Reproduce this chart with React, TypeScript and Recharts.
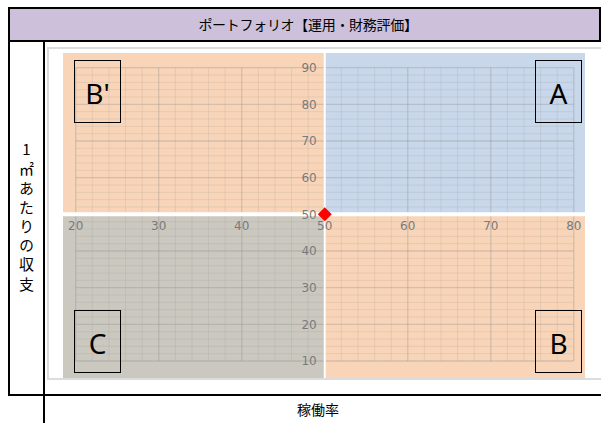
import React from 'react';
import {
  ScatterChart,
  Scatter,
  XAxis,
  YAxis,
  ReferenceArea,
  ReferenceLine,
  ReferenceDot,
} from 'recharts';

// ---- data ----
const titleText = 'ポートフォリオ【運用・財務評価】';
const yAxisTitle = '1㎡あたりの収支';
const xAxisTitle = '稼働率';

const xTickValues = [20, 30, 40, 50, 60, 70, 80];
const yTickValues = [10, 20, 30, 40, 50, 60, 70, 80, 90];
const xMinorGrid = [22, 24, 26, 28, 32, 34, 36, 38, 42, 44, 46, 48, 52, 54, 56, 58, 62, 64, 66, 68, 72, 74, 76, 78];
const yMinorGrid = [12, 14, 16, 18, 22, 24, 26, 28, 32, 34, 36, 38, 42, 44, 46, 48, 52, 54, 56, 58, 62, 64, 66, 68, 72, 74, 76, 78, 82, 84, 86, 88];
const crossValue = 50;
const portfolioPoints = [{ rate: 50, income: 50 }];
const quadrantNames = ["B'", 'A', 'C', 'B'];

// ---- layout / style ----
const X_DOMAIN: [number, number] = [18.47, 81.35];
const Y_DOMAIN: [number, number] = [5.36, 94.01];
const ORANGE = '#F8D5B8';
const BLUE = '#C8D7EA';
const GRAY = '#CBC8C0';
const quadrantStyles = [
  { x1: X_DOMAIN[0], x2: crossValue, y1: crossValue, y2: Y_DOMAIN[1], fill: ORANGE, box: { left: 74, top: 60 } },
  { x1: crossValue, x2: X_DOMAIN[1], y1: crossValue, y2: Y_DOMAIN[1], fill: BLUE, box: { left: 535, top: 60 } },
  { x1: X_DOMAIN[0], x2: crossValue, y1: Y_DOMAIN[0], y2: crossValue, fill: GRAY, box: { left: 74, top: 310 } },
  { x1: crossValue, x2: X_DOMAIN[1], y1: Y_DOMAIN[0], y2: crossValue, fill: ORANGE, box: { left: 535, top: 310 } },
];

const TICK_FONT = { fontFamily: 'DejaVu Sans', fontSize: 12, fill: '#7A7A7A' };

const Diamond = (props: any) => {
  const { cx, cy } = props;
  const r = 7;
  return (
    <polygon
      points={`${cx},${cy - r} ${cx + r},${cy} ${cx},${cy + r} ${cx - r},${cy}`}
      fill="#FF0000"
    />
  );
};

const line = (left: number, top: number, width: number, height: number, color = '#000') => (
  <div style={{ position: 'absolute', left, top, width, height, background: color }} />
);

export default function App() {
  const xLo = xTickValues[0];
  const xHi = xTickValues[xTickValues.length - 1];
  const yLo = yTickValues[0];
  const yHi = yTickValues[yTickValues.length - 1];
  return (
    <div
      style={{
        position: 'absolute',
        left: 0,
        top: 0,
        width: 601,
        height: 423,
        background: '#fff',
        overflow: 'hidden',
        fontFamily: '"Noto Sans CJK JP", sans-serif',
      }}
    >
      {/* title band */}
      <div style={{ position: 'absolute', left: 10, top: 9, width: 589, height: 31, background: '#CCC0DA' }} />
      <div
        style={{
          position: 'absolute',
          left: 108,
          top: 9,
          width: 400,
          height: 31,
          lineHeight: '31px',
          textAlign: 'center',
          fontSize: 14,
          color: '#000',
          letterSpacing: -0.3,
        }}
      >
        {titleText}
      </div>

      {/* chart frame */}
      <div
        style={{
          position: 'absolute',
          left: 47,
          top: 47,
          width: 554,
          height: 333,
          boxSizing: 'border-box',
          borderTop: '2px solid #DCDCDC',
          borderLeft: '2px solid #DCDCDC',
          borderBottom: '2px solid #DCDCDC',
        }}
      />

      {/* table lines */}
      {line(8, 7, 593, 2)}
      {line(8, 7, 2, 389)}
      {line(8, 40, 593, 2)}
      {line(43, 40, 2, 383)}
      {line(8, 394, 593, 2)}
      {line(599, 7, 2, 35)}

      {/* y axis title (vertical) */}
      <div
        style={{
          position: 'absolute',
          left: 12,
          top: 142,
          width: 28,
          height: 160,
          display: 'flex',
          justifyContent: 'center',
        }}
      >
        <div
          style={{
            writingMode: 'vertical-rl',
            textOrientation: 'upright',
            fontSize: 15,
            lineHeight: '18px',
            letterSpacing: 4.2,
            color: '#000',
          }}
        >
          {yAxisTitle}
        </div>
      </div>

      {/* x axis title */}
      <div
        style={{
          position: 'absolute',
          left: 218,
          top: 399,
          width: 200,
          height: 20,
          lineHeight: '20px',
          textAlign: 'center',
          fontSize: 14,
          color: '#000',
        }}
      >
        {xAxisTitle}
      </div>

      {/* chart */}
      <div style={{ position: 'absolute', left: 63, top: 53 }}>
        <ScatterChart width={522} height={325} margin={{ top: 0, right: 0, bottom: 0, left: 0 }}>
          <XAxis type="number" dataKey="rate" domain={X_DOMAIN} hide allowDataOverflow />
          <YAxis type="number" dataKey="income" domain={Y_DOMAIN} hide allowDataOverflow />
          {quadrantStyles.map((q, i) => (
            <ReferenceArea
              key={`q${i}`}
              x1={q.x1}
              x2={q.x2}
              y1={q.y1}
              y2={q.y2}
              fill={q.fill}
              fillOpacity={1}
              stroke="none"
              ifOverflow="visible"
            />
          ))}
          {xMinorGrid.map((v) => (
            <ReferenceLine
              key={`xm${v}`}
              segment={[{ x: v, y: yLo }, { x: v, y: yHi }]}
              stroke="#8C8C8C"
              strokeOpacity={0.17}
              strokeWidth={1}
            />
          ))}
          {yMinorGrid.map((v) => (
            <ReferenceLine
              key={`ym${v}`}
              segment={[{ x: xLo, y: v }, { x: xHi, y: v }]}
              stroke="#8C8C8C"
              strokeOpacity={0.17}
              strokeWidth={1}
            />
          ))}
          {xTickValues.map((v) => (
            <ReferenceLine
              key={`xM${v}`}
              segment={[{ x: v, y: yLo }, { x: v, y: yHi }]}
              stroke="#8C8C8C"
              strokeOpacity={0.32}
              strokeWidth={1.3}
            />
          ))}
          {yTickValues.map((v) => (
            <ReferenceLine
              key={`yM${v}`}
              segment={[{ x: xLo, y: v }, { x: xHi, y: v }]}
              stroke="#8C8C8C"
              strokeOpacity={0.32}
              strokeWidth={1.3}
            />
          ))}
          <ReferenceLine x={crossValue} stroke="#FFFFFF" strokeWidth={2} />
          <ReferenceLine y={crossValue} stroke="#FFFFFF" strokeWidth={4} />
          {xTickValues.map((v) => (
            <ReferenceDot
              key={`xl${v}`}
              x={v}
              y={crossValue}
              r={0}
              stroke="none"
              fill="none"
              label={{ value: String(v), position: 'bottom', offset: 7, ...TICK_FONT }}
            />
          ))}
          {yTickValues.map((v) => (
            <ReferenceDot
              key={`yl${v}`}
              x={crossValue}
              y={v}
              r={0}
              stroke="none"
              fill="none"
              label={{ value: String(v), position: 'left', offset: 8, ...TICK_FONT }}
            />
          ))}
          <Scatter data={portfolioPoints} dataKey="income" shape={Diamond} isAnimationActive={false} />
        </ScatterChart>
      </div>

      {/* quadrant name boxes */}
      {quadrantStyles.map((q, i) => (
        <div
          key={`b${i}`}
          style={{
            position: 'absolute',
            left: q.box.left,
            top: q.box.top,
            width: 47,
            height: 63,
            boxSizing: 'border-box',
            border: '1px solid #000',
            display: 'flex',
            alignItems: 'center',
            justifyContent: 'center',
            fontFamily: '"Noto Sans", sans-serif',
            fontSize: 28,
            color: '#000',
            paddingTop: 3,
          }}
        >
          {quadrantNames[i]}
        </div>
      ))}
    </div>
  );
}
